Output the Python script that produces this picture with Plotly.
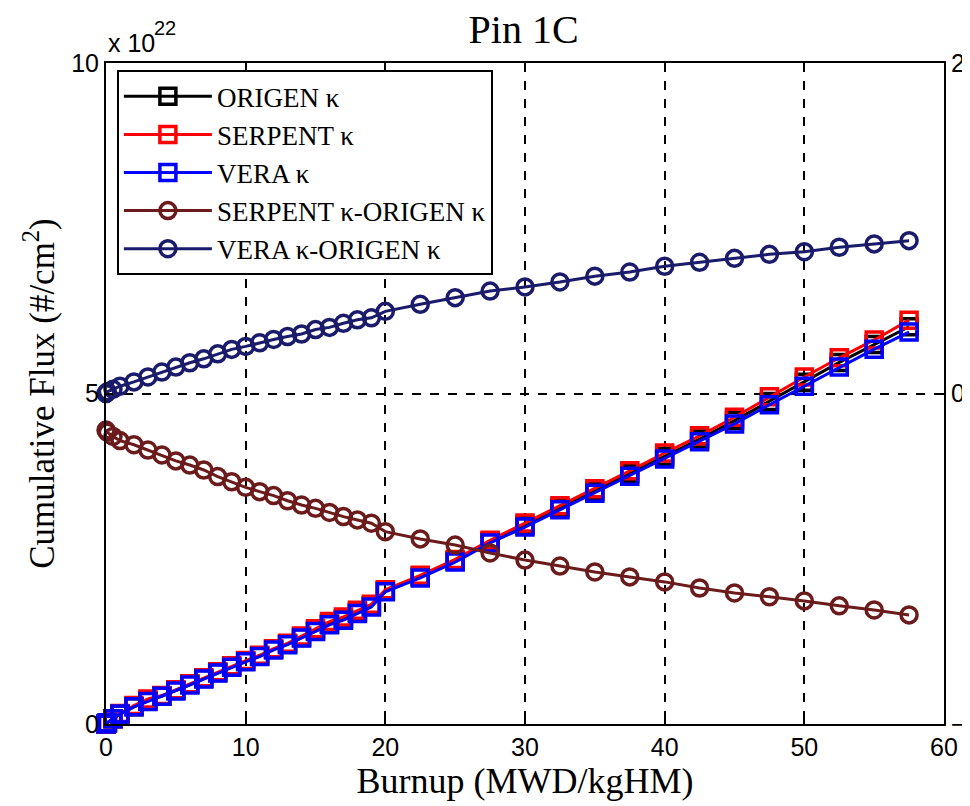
import plotly.graph_objects as go

# Burnup steps (MWD/kgHM)
burnup = [0, 0.1, 0.5, 1, 2, 3, 4, 5, 6, 7, 8, 9, 10, 11, 12, 13, 14, 15, 16, 17, 18, 19, 20,
          22.5, 25, 27.5, 30, 32.5, 35, 37.5, 40, 42.5, 45, 47.5, 50, 52.5, 55, 57.5]

# Cumulative flux (x 10^22 #/cm^2)
origen_flux = [0, 0.02, 0.08, 0.15, 0.26, 0.35, 0.42, 0.51, 0.60, 0.69, 0.78, 0.87, 0.95, 1.03,
               1.13, 1.21, 1.31, 1.41, 1.51, 1.59, 1.69, 1.79, 2.02, 2.23, 2.47, 2.76, 3.01,
               3.27, 3.52, 3.79, 4.05, 4.31, 4.59, 4.88, 5.17, 5.47, 5.74, 6.01]
serpent_flux = [0, 0.02, 0.08, 0.16, 0.28, 0.38, 0.43, 0.52, 0.61, 0.70, 0.79, 0.88, 0.96, 1.04,
                1.14, 1.22, 1.33, 1.44, 1.55, 1.62, 1.72, 1.81, 2.03, 2.25, 2.49, 2.78, 3.04,
                3.30, 3.56, 3.83, 4.10, 4.36, 4.64, 4.95, 5.25, 5.54, 5.81, 6.11]
vera_flux = [0, 0.02, 0.08, 0.15, 0.26, 0.34, 0.42, 0.50, 0.59, 0.68, 0.77, 0.86, 0.94, 1.02,
             1.12, 1.20, 1.30, 1.40, 1.50, 1.57, 1.67, 1.77, 2.00, 2.21, 2.45, 2.74, 2.98,
             3.24, 3.49, 3.75, 4.01, 4.27, 4.54, 4.83, 5.11, 5.40, 5.67, 5.93]

# Differences (right axis)
serpent_diff = [-0.221, -0.235, -0.26, -0.285, -0.31, -0.342, -0.372, -0.408, -0.433, -0.463,
                -0.503, -0.534, -0.568, -0.594, -0.618, -0.649, -0.675, -0.695, -0.72, -0.745,
                -0.765, -0.785, -0.836, -0.88, -0.917, -0.965, -1.008, -1.044, -1.08, -1.11,
                -1.14, -1.177, -1.207, -1.23, -1.255, -1.285, -1.31, -1.34]
vera_diff = [0.0, 0.01, 0.025, 0.044, 0.07, 0.10, 0.13, 0.16, 0.186, 0.21, 0.24, 0.267, 0.285,
             0.307, 0.327, 0.345, 0.36, 0.387, 0.40, 0.425, 0.446, 0.458, 0.497, 0.54, 0.58,
             0.62, 0.645, 0.675, 0.71, 0.735, 0.77, 0.794, 0.818, 0.842, 0.858, 0.885, 0.905,
             0.925]

x_ticks = [0, 10, 20, 30, 40, 50, 60]
y_ticks = [0, 5, 10]
y2_ticks = [-2, 0, 2]

serif = "Liberation Serif, Times New Roman, serif"
sans = "Liberation Sans, Arial, sans-serif"

fig = go.Figure()

def add(name, y, color, symbol, yaxis, group):
    fig.add_trace(go.Scatter(
        x=burnup, y=y, name=name, mode="lines+markers", yaxis=yaxis,
        legendgroup=group, cliponaxis=False,
        line=dict(color=color, width=3),
        marker=dict(symbol=symbol, size=16, color=color,
                    line=dict(color=color, width=3.5)),
    ))

add("ORIGEN κ", origen_flux, "#000000", "square-open", "y", "g1")
add("SERPENT κ", serpent_flux, "#FF0000", "square-open", "y", "g2")
add("VERA κ", vera_flux, "#0000FF", "square-open", "y", "g3")
add("SERPENT κ-ORIGEN κ", serpent_diff, "#6B1B1B", "circle-open", "y2", "g4")
add("VERA κ-ORIGEN κ", vera_diff, "#1B1B6B", "circle-open", "y2", "g5")

axis_common = dict(
    showline=True, linecolor="black", linewidth=2,
    ticks="inside", ticklen=7, tickwidth=2, tickcolor="black",
    tickfont=dict(family=sans, size=25, color="black"),
    zeroline=False, automargin=False,
)

fig.update_layout(
    width=962, height=798,
    paper_bgcolor="white", plot_bgcolor="white",
    margin=dict(l=98, r=26, t=55, b=82),
    title=dict(text="Pin 1C", x=0.536, xanchor="center", y=0.974, yanchor="middle",
               font=dict(family=serif, size=40, color="black"), automargin=False),
    xaxis=dict(
        range=[0, 60], tickvals=x_ticks, mirror="ticks",
        showgrid=True, gridcolor="black", griddash="dash", gridwidth=2,
        title=dict(text="Burnup (MWD/kgHM)", standoff=4,
                   font=dict(family=serif, size=36, color="black")),
        **axis_common,
    ),
    yaxis=dict(
        range=[0, 10], tickvals=y_ticks, mirror=True,
        showgrid=True, gridcolor="black", griddash="dash", gridwidth=2,
        title=dict(text="Cumulative Flux (#/cm<sup>2</sup>)", standoff=6,
                   font=dict(family=serif, size=35, color="black")),
        **axis_common,
    ),
    yaxis2=dict(
        range=[-2, 2], tickvals=y2_ticks, overlaying="y", side="right",
        showgrid=False,
        **axis_common,
    ),
    legend=dict(
        x=0.013, y=0.989, xanchor="left", yanchor="top",
        bgcolor="white", bordercolor="black", borderwidth=2,
        font=dict(family=serif, size=27, color="black"),
        itemwidth=88, tracegroupgap=2, traceorder="normal",
    ),
    showlegend=True,
    annotations=[
        dict(text="x 10", xref="paper", yref="paper", x=0.0, y=1.0,
             xanchor="left", yanchor="bottom", yshift=4, showarrow=False,
             font=dict(family=sans, size=25, color="black")),
        dict(text="22", xref="paper", yref="paper", x=0.0, y=1.0,
             xanchor="left", yanchor="bottom", yshift=22, xshift=46, showarrow=False,
             font=dict(family=sans, size=20, color="black")),
    ],
)

fig.write_html("out.html")
